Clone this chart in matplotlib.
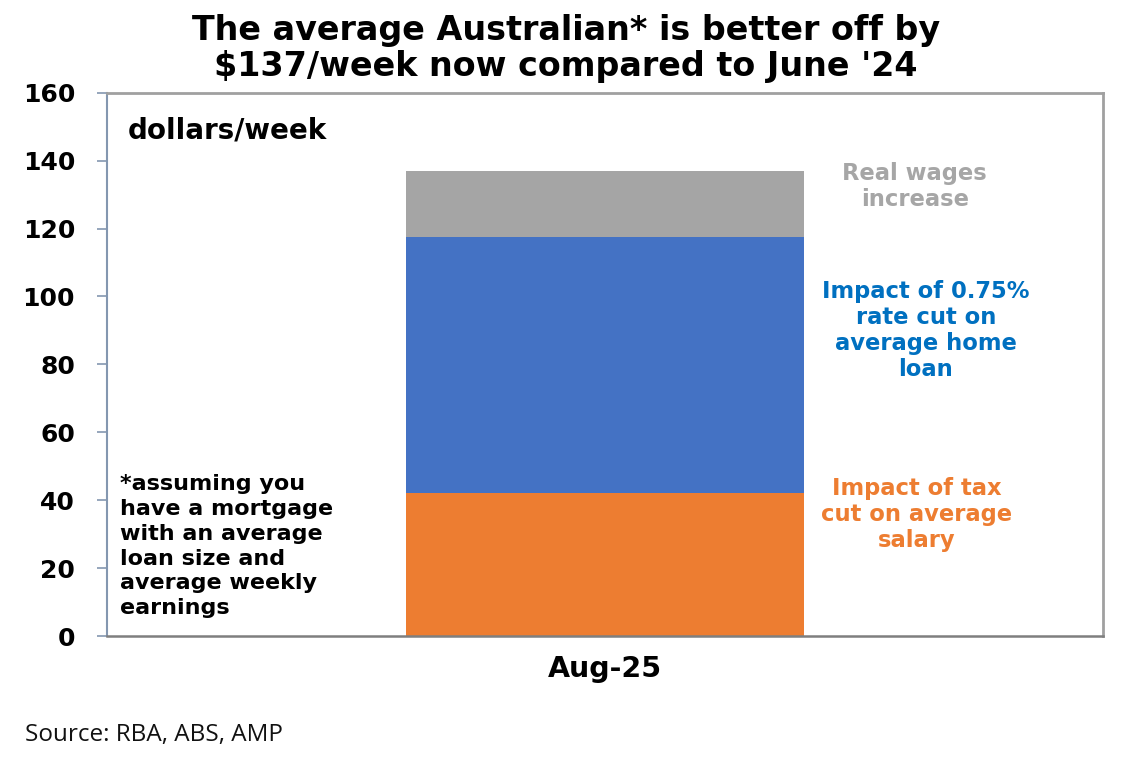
import matplotlib.pyplot as plt

CATEGORIES = ["Aug-25"]
TAX_CUT = [42.0]
RATE_CUT = [75.5]
REAL_WAGES = [19.5]
Y_TICKS = [0, 20, 40, 60, 80, 100, 120, 140, 160]

ORANGE = "#ED7D31"
BLUE = "#4472C4"
GREY = "#A5A5A5"

plt.rcParams["font.family"] = ["DejaVu Sans"]

fig = plt.figure(figsize=(11.3, 7.65), dpi=100)
ax = fig.add_axes([0.0947, 0.1686, 0.8814, 0.7102])

x = range(len(CATEGORIES))
ax.bar(x, TAX_CUT, width=1.0, color=ORANGE, zorder=2)
ax.bar(x, RATE_CUT, width=1.0, bottom=TAX_CUT, color=BLUE, zorder=2)
base = [a + b for a, b in zip(TAX_CUT, RATE_CUT)]
ax.bar(x, REAL_WAGES, width=1.0, bottom=base, color=GREY, zorder=2)

ax.set_xlim(-1.25, 1.25)
ax.set_ylim(0, 160)
ax.set_yticks(Y_TICKS)
ax.set_xticks(list(x))
ax.set_xticklabels(CATEGORIES, fontsize=20.5, fontweight="bold")
ax.tick_params(axis="x", length=0, pad=14)
ax.tick_params(axis="y", length=7, width=1.2, color="#8497B0", pad=16,
               labelsize=18)
for lab in ax.get_yticklabels():
    lab.set_fontweight("bold")

ax.spines["left"].set_color("#8497B0")
ax.spines["left"].set_linewidth(1.5)
ax.spines["bottom"].set_color("#7F7F7F")
ax.spines["bottom"].set_linewidth(1.8)
for side in ("top", "right"):
    ax.spines[side].set_color("#A0A0A0")
    ax.spines[side].set_linewidth(2.0)

fig.suptitle("The average Australian* is better off by\n$137/week now compared to June '24",
             x=0.501, y=0.982, fontsize=24, fontweight="bold", linespacing=1.12)

ax.text(0.021, 0.957, "dollars/week", transform=ax.transAxes, fontsize=20,
        fontweight="bold", va="top", ha="left")
ax.text(0.013, 0.298, "*assuming you\nhave a mortgage\nwith an average\nloan size and\naverage weekly\nearnings",
        transform=ax.transAxes, fontsize=16, fontweight="bold", va="top", ha="left",
        linespacing=1.3)

ax.text(0.811, 0.873, "Real wages\nincrease", transform=ax.transAxes, fontsize=16.3,
        fontweight="bold", color="#A6A6A6", ha="center", va="top", linespacing=1.2)
ax.text(0.822, 0.656, "Impact of 0.75%\nrate cut on\naverage home\nloan", transform=ax.transAxes,
        fontsize=16.3, fontweight="bold", color="#0070C0", ha="center", va="top",
        linespacing=1.17)
ax.text(0.813, 0.293, "Impact of tax\ncut on average\nsalary", transform=ax.transAxes,
        fontsize=16.3, fontweight="bold", color=ORANGE, ha="center", va="top",
        linespacing=1.17)

fig.text(0.022, 0.032, "Source: RBA, ABS, AMP", fontsize=17.5, family=["Open Sans", "DejaVu Sans"],
         ha="left", va="baseline", color="#111111")

fig.savefig("out.png", dpi=100, facecolor="white")
